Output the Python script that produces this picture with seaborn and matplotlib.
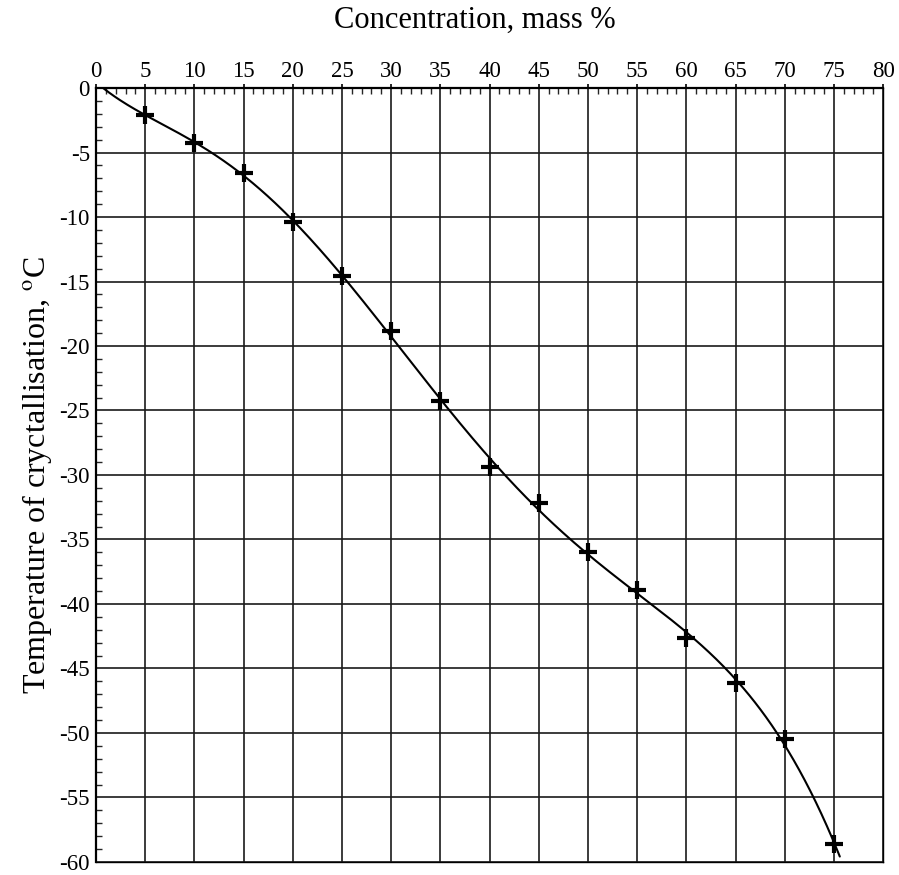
import numpy as np
import pandas as pd
import matplotlib
matplotlib.use("Agg")
import matplotlib.pyplot as plt
import seaborn as sns
from matplotlib.ticker import MultipleLocator

# Crystallisation temperature vs. concentration
concentration = [5, 10, 15, 20, 25, 30, 35, 40, 45, 50, 55, 60, 65, 70, 75]
temperature = [-2.1, -4.3, -6.6, -10.4, -14.6, -18.8, -24.3, -29.4, -32.2,
               -36.0, -38.9, -42.6, -46.1, -50.5, -58.6]
curve_start = (0.75, 0.0)
x_ticks = list(range(0, 85, 5))
y_ticks = list(range(-60, 5, 5))

sns.set_theme(style="white")
plt.rcParams["font.family"] = ["Liberation Serif", "DejaVu Serif"]
plt.rcParams["mathtext.fontset"] = "stix"
plt.rcParams["axes.unicode_minus"] = False

df = pd.DataFrame({"conc": concentration, "temp": temperature})

# Smooth least-squares trend curve through the measurements
kx = np.array([curve_start[0]] + concentration, float)
ky = np.array([curve_start[1]] + temperature, float)
coef = np.polyfit(kx, ky, 6)
cx = np.linspace(kx[0], 75.6, 400)
cy = np.polyval(coef, cx)
curve = pd.DataFrame({"conc": cx, "temp": cy})

fig = plt.figure(figsize=(8.99, 8.75), dpi=100)
ax = fig.add_axes([0.1068, 0.0149, 0.8755, 0.8845])

sns.lineplot(data=curve, x="conc", y="temp", ax=ax, color="black",
             linewidth=1.5, sort=False, zorder=3, clip_on=False)
sns.lineplot(data=df, x="conc", y="temp", ax=ax, color="black",
             linestyle="none", marker="+", markersize=12.5, markeredgewidth=3,
             markeredgecolor="black", markerfacecolor="black",
             zorder=4, clip_on=False)

ax.set_xlim(0, 80)
ax.set_ylim(-60, 0)
ax.set_xticks(x_ticks)
ax.set_yticks(y_ticks)
ax.xaxis.set_minor_locator(MultipleLocator(1))
ax.yaxis.set_minor_locator(MultipleLocator(1))

ax.xaxis.tick_top()
ax.xaxis.set_label_position("top")
ax.tick_params(axis="x", which="major", direction="out", length=3, width=1.2,
               labelsize=16.5, pad=1, colors="black")
ax.tick_params(axis="x", which="minor", direction="in", length=4, width=1,
               top=True, bottom=False)
ax.tick_params(axis="y", which="major", direction="out", length=3.5, width=1.2,
               labelsize=16.5, pad=1, colors="black")
ax.tick_params(axis="y", which="minor", direction="in", length=4, width=1,
               left=True, right=False)

ax.grid(True, which="major", color="#1a1a1a", linewidth=1.2)
for side, sp in ax.spines.items():
    sp.set_visible(True)
    sp.set_color("black")
    sp.set_linewidth(1.6 if side in ("top", "left") else 1.0)

ax.set_xlabel("Concentration, mass %", fontsize=22, color="black")
ax.xaxis.set_label_coords(0.4816, 1.088)
ax.xaxis.label.set_verticalalignment("center")
ax.set_ylabel(r"Temperature of cryctallisation, $^{\mathrm{o}}$C",
              fontsize=23, labelpad=4, color="black")

fig.savefig("out.png", dpi=100, facecolor="white")
